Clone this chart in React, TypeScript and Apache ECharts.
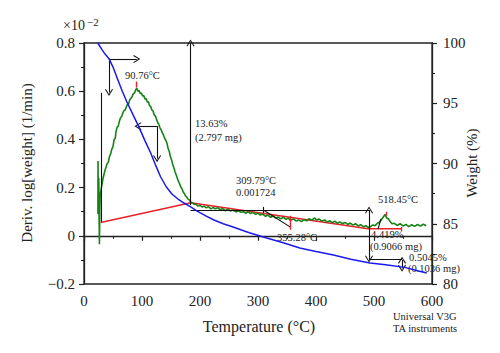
import React, { useEffect, useRef } from "react";
import * as echarts from "echarts";

// ---- Data ----
// Weight curve (°C, %)
const weightData: number[][] = [
  [23.6, 100], [27, 99.75], [31, 99.45], [36, 99.1], [43.1, 98.7], [50, 98.0], [58, 97.0],
  [66, 96.0], [74, 95.1], [84, 94.1], [95, 93.0], [105, 91.9], [115, 90.87],
  [124, 89.8], [132, 88.9], [142, 88.05], [152, 87.45], [162, 87.05], [172.4, 86.72],
  [184, 86.4], [195, 86.05], [210, 85.65], [224, 85.31], [240, 85.0], [257, 84.73],
  [285, 84.25], [315, 83.82], [345, 83.4], [372, 82.99], [400, 82.7], [430, 82.4],
  [460, 82.05], [493, 81.74], [520, 81.6], [553, 81.38], [575, 81.1], [591, 80.91],
];

// Derivative curve (°C, ×10^-2 1/min)
const derivData: number[][] = [
  [24.0, 0.09], [24.2, 0.31], [24.5, 0.1], [25.5, 0.24], [26, 0.08], [26.6, -0.035],
  [27.2, 0.11], [28, 0.17], [30, 0.2], [33, 0.24], [36, 0.27], [38, 0.285], [40, 0.3],
  [42, 0.305], [44, 0.33], [46, 0.34], [48, 0.36], [50, 0.37], [52, 0.4], [54, 0.405],
  [55, 0.43], [57, 0.45], [59, 0.455], [61, 0.475], [63, 0.49], [65, 0.495], [67, 0.51],
  [69, 0.52], [71, 0.522], [73, 0.535], [75, 0.545], [77, 0.548], [79, 0.565],
  [81, 0.57], [83, 0.578], [85, 0.59], [87, 0.592], [89, 0.605], [91, 0.612],
  [93, 0.6], [95, 0.603], [97, 0.59], [99, 0.592], [101, 0.58], [103, 0.582],
  [105, 0.568], [107, 0.57], [109, 0.555], [111, 0.556], [113, 0.54], [115, 0.536],
  [117, 0.522], [119, 0.518], [121, 0.502], [123, 0.498], [125, 0.484], [127, 0.47],
  [129, 0.462], [131, 0.448], [133, 0.44], [135, 0.428], [137, 0.418], [139, 0.405],
  [141, 0.396], [143, 0.385], [145, 0.362], [147, 0.35], [149, 0.328], [151, 0.315],
  [153, 0.296], [155, 0.282], [157, 0.265], [159, 0.252], [161, 0.238], [163, 0.226],
  [165, 0.215], [167, 0.202], [169, 0.195], [171, 0.182], [173, 0.176], [175, 0.166],
  [177, 0.162], [179, 0.153], [181, 0.15], [184, 0.14], [187, 0.137], [190, 0.13],
  [193, 0.132], [196, 0.124], [200, 0.126], [204, 0.119], [207, 0.123], [211, 0.116],
  [214, 0.121], [219, 0.112], [223, 0.118], [226, 0.112], [231, 0.116], [235, 0.108],
  [239, 0.113], [244, 0.104], [248, 0.111], [252, 0.103], [257, 0.107], [262, 0.099],
  [266, 0.104], [270, 0.098], [275, 0.1], [279, 0.093], [283, 0.1], [287, 0.092],
  [291, 0.097], [296, 0.089], [300, 0.094], [304, 0.086], [308, 0.09], [313, 0.081],
  [317, 0.086], [322, 0.077], [326, 0.082], [331, 0.074], [335, 0.078], [339, 0.07],
  [344, 0.077], [348, 0.068], [352, 0.073], [356, 0.064], [361, 0.07], [366, 0.061],
  [370, 0.066], [375, 0.059], [379, 0.067], [384, 0.062], [388, 0.071], [393, 0.065],
  [397, 0.074], [401, 0.066], [405, 0.07], [410, 0.061], [415, 0.066], [419, 0.057],
  [424, 0.062], [428, 0.055], [433, 0.06], [437, 0.052], [441, 0.058], [446, 0.05],
  [450, 0.056], [455, 0.047], [459, 0.053], [464, 0.044], [468, 0.05], [473, 0.041],
  [477, 0.046], [482, 0.038], [486, 0.042], [490, 0.035], [494, 0.038], [498, 0.045],
  [502, 0.042], [506, 0.052], [510, 0.058], [513, 0.068], [516, 0.078], [519, 0.088],
  [522, 0.074], [525, 0.07], [528, 0.058], [531, 0.05], [535, 0.052], [540, 0.043],
  [545, 0.05], [550, 0.041], [555, 0.047], [560, 0.038], [565, 0.046], [570, 0.039],
  [575, 0.047], [580, 0.04], [585, 0.048], [590, 0.042],
];

// Baseline (red)
const baselineData: number[][] = [
  [28.7, 0.055], [184, 0.137], [490, 0.029], [547, 0.029],
];

// Red marker ticks (derivative axis)
const redTicks: number[][][] = [
  [[90.2, 0.615], [90.2, 0.64]],
  [[355.2, 0.025], [355.2, 0.083]],
  [[520.7, 0.083], [520.7, 0.1]],
  [[547, 0.02], [547, 0.037]],
];

// Black helper lines (derivative axis)
const blackDerivLines: number[][][] = [
  [[29.3, 0.593], [29.3, 0.058]],
  [[308.6, 0.108], [355.2, 0.037]],
  [[308.6, 0.12], [308.6, 0.095]],
  [[507, 0.029], [512, 0.07]],
];

// Arrows on weight axis: [start, end, heads]
const weightArrows: [number[], number[], string][] = [
  [[43.1, 98.67], [91, 98.67], "end"],
  [[43.1, 98.67], [43.1, 95.9], "end"],
  [[126, 93.1], [93, 93.1], "end"],
  [[126, 93.1], [126, 90.4], "end"],
  [[183.6, 86.55], [183.6, 100], "end"],
  [[183.6, 86.14], [491.4, 86.14], "none"],
  [[491.4, 86.14], [491.4, 82.07], "both"],
  [[491.4, 82.07], [548.3, 82.07], "none"],
  [[548.3, 81.98], [548.3, 81.3], "both"],
];

const xTicks = { min: 0, max: 600, interval: 100 };
const derivTicks = { min: -0.2, max: 0.8, interval: 0.2 };
const weightTicks = { min: 80, max: 100, interval: 5 };

// Annotation texts
const annotations: { text: string; x: number; y: number }[] = [
  { text: "90.76°C", x: 125, y: 75 },
  { text: "13.63%", x: 195, y: 123 },
  { text: "(2.797 mg)", x: 195, y: 137 },
  { text: "309.79°C", x: 236, y: 180 },
  { text: "0.001724", x: 236, y: 192 },
  { text: "355.28°C", x: 277, y: 237 },
  { text: "518.45°C", x: 378, y: 199 },
  { text: "4.419%", x: 371, y: 234 },
  { text: "(0.9066 mg)", x: 370, y: 246 },
  { text: "0.5045%", x: 409, y: 257 },
  { text: "(0.1036 mg)", x: 408, y: 268 },
  { text: "Universal V3G", x: 393, y: 316 },
  { text: "TA instruments", x: 393, y: 328 },
];

const SERIF = "'Liberation Serif', 'DejaVu Serif', serif";
const CHEVRON = "path://M5,0L10,8L8.9,8.7L5,2.3L1.1,8.7L0,8Z";

export default function App() {
  const ref = useRef<HTMLDivElement>(null);

  useEffect(() => {
    document.body.style.margin = "0";
    if (!ref.current) return;
    const chart = echarts.init(ref.current, undefined, { renderer: "svg" });

    const arrowItems = weightArrows.map(([s, e, heads]) => [
      {
        coord: s,
        symbol: heads === "both" ? CHEVRON : "none",
        symbolSize: [8, 7],
      },
      {
        coord: e,
        symbol: heads === "none" ? "none" : CHEVRON,
        symbolSize: [8, 7],
      },
    ]);

    const axisCommon = {
      axisLine: { show: true, lineStyle: { color: "#222", width: 1.3 } },
      axisTick: { show: true, length: 5, lineStyle: { color: "#222", width: 1.2 } },
      minorTick: { show: true, splitNumber: 2, length: 3, lineStyle: { color: "#222", width: 1.1 } },
      splitLine: { show: false },
      axisLabel: { color: "#222", fontFamily: SERIF, fontSize: 15 },
    };

    chart.setOption({
      animation: false,
      backgroundColor: "#fff",
      grid: {
        left: 84, right: 68, top: 43, bottom: 69,
        show: true, borderColor: "#222", borderWidth: 1.3,
      },
      xAxis: {
        type: "value",
        ...xTicks,
        ...axisCommon,
        axisLabel: { ...axisCommon.axisLabel, margin: 9 },
      },
      yAxis: [
        {
          type: "value",
          ...derivTicks,
          ...axisCommon,
          axisLabel: {
            ...axisCommon.axisLabel,
            margin: 9,
            formatter: (v: number) => {
              const r = Math.round(v * 10) / 10;
              return r === 0 ? "0" : String(r).replace("-", "−");
            },
          },
        },
        {
          type: "value",
          position: "right",
          ...weightTicks,
          ...axisCommon,
          axisLabel: { ...axisCommon.axisLabel, margin: 11 },
        },
      ],
      series: [
        {
          type: "line",
          name: "Baseline",
          yAxisIndex: 0,
          data: baselineData,
          symbol: "none",
          lineStyle: { color: "#e8202a", width: 1.5 },
          z: 3,
          markLine: {
            silent: true,
            symbol: "none",
            label: { show: false },
            lineStyle: { color: "#e8202a", width: 1.4, type: "solid" },
            data: redTicks.map(([a, b]) => [{ coord: a }, { coord: b }]),
          },
        },
        {
          type: "line",
          name: "Deriv",
          yAxisIndex: 0,
          data: derivData,
          symbol: "none",
          lineStyle: { color: "#178317", width: 1.6 },
          z: 4,
          markLine: {
            silent: true,
            symbol: "none",
            label: { show: false },
            lineStyle: { color: "#111", width: 1.1, type: "solid" },
            data: blackDerivLines.map(([a, b]) => [{ coord: a }, { coord: b }]),
          },
        },
        {
          type: "line",
          name: "Weight",
          yAxisIndex: 1,
          data: weightData,
          symbol: "none",
          lineStyle: { color: "#1a1aee", width: 1.5 },
          z: 5,
          markLine: {
            silent: true,
            label: { show: false },
            lineStyle: { color: "#111", width: 1.1, type: "solid" },
            data: arrowItems,
          },
        },
      ],
      graphic: [
        {
          type: "text", left: 63, top: 18,
          style: { text: "×10", fontFamily: SERIF, fontSize: 14, fill: "#222" },
        },
        {
          type: "text", left: 87, top: 16,
          style: { text: "−2", fontFamily: SERIF, fontSize: 11, fill: "#222" },
        },
        {
          type: "text", x: 27, y: 163, rotation: Math.PI / 2,
          style: {
            text: "Deriv. log[weight] (1/min)", fontFamily: SERIF, fontSize: 15,
            fill: "#222", align: "center", verticalAlign: "middle",
          },
        },
        {
          type: "text", x: 472, y: 163, rotation: Math.PI / 2,
          style: {
            text: "Weight (%)", fontFamily: SERIF, fontSize: 15,
            fill: "#222", align: "center", verticalAlign: "middle",
          },
        },
        {
          type: "text", x: 259, y: 326,
          style: {
            text: "Temperature (°C)", fontFamily: SERIF, fontSize: 16,
            fill: "#222", align: "center", verticalAlign: "middle",
          },
        },
        ...annotations.map((a) => ({
          type: "text", x: a.x, y: a.y,
          style: {
            text: a.text, fontFamily: SERIF, fontSize: 10.5, fill: "#222",
            align: "left", verticalAlign: "middle",
          },
        })),
      ],
    });

    return () => chart.dispose();
  }, []);

  return <div ref={ref} style={{ width: 500, height: 353 }} />;
}
